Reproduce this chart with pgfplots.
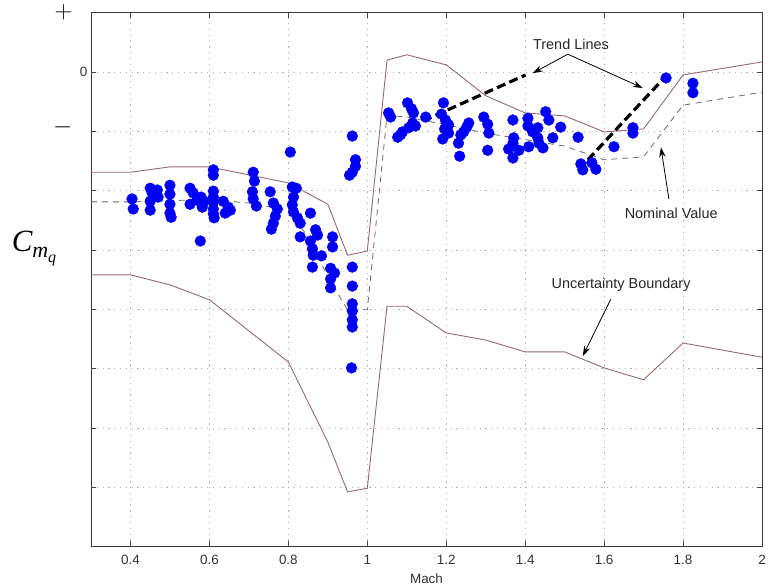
\documentclass[border=0pt]{standalone}
\usepackage{pgfplots}
\pgfplotsset{compat=1.18}
\usetikzlibrary{arrows.meta}
\usepackage{fontspec}
\setmainfont{Liberation Sans}
\newfontfamily\serifit{Liberation Serif}
\definecolor{bnd}{RGB}{150,105,110}
\definecolor{nom}{RGB}{105,105,105}
\definecolor{dotblue}{RGB}{0,0,245}
\begin{document}
\begin{tikzpicture}
\path[use as bounding box] (-91bp,-40.6bp) rectangle (682bp,546.4bp);
\begin{axis}[
  at={(0,0)}, anchor=south west,
  scale only axis, width=671bp, height=533.7bp,
  xmin=0.3, xmax=2, ymin=-8, ymax=1,
  clip=false,
  xtick={0.4,0.6,0.8,1.0,1.2,1.4,1.6,1.8,2.0},
  xticklabels={0.4,0.6,0.8,1,1.2,1.4,1.6,1.8,2},
  ytick={-8,-7,-6,-5,-4,-3,-2,-1,0,1},
  yticklabels={,,,,,,,{\raisebox{10bp}{\color{black}\fontsize{24}{24}\selectfont$-$}\rule{15bp}{0pt}},0,{{\color{black}\fontsize{24}{24}\selectfont$+$}\rule{15bp}{0pt}}},
  /pgf/number format/assume math mode=true,
  grid=major,
  grid style={gray!60, line width=0.6pt, dash pattern=on 1.2bp off 4.6bp},
  tick align=inside, major tick length=5bp,
  tick style={gray!55!black, line width=0.6pt},
  axis line style={gray!45!black, line width=0.8pt},
  tick label style={font=\fontsize{13.5}{15}\selectfont, text=black!80},
  xticklabel style={yshift=-5bp},
  xlabel={Mach},
  xlabel style={font=\fontsize{13.5}{15}\selectfont, text=black!80, at={(axis description cs:0.5,0)}, anchor=center, yshift=-32bp},
]
% upper uncertainty boundary
\addplot[bnd, line width=0.9pt] coordinates {
(0.3,-1.69)(0.4,-1.69)(0.5,-1.60)(0.6,-1.60)(0.8,-1.87)(0.9,-2.23)(0.95,-3.09)(1.0,-3.02)
(1.05,0.20)(1.1,0.29)(1.2,0.12)(1.3,-0.40)(1.4,-0.69)(1.5,-0.74)(1.6,-1.01)(1.7,-0.96)(1.8,-0.05)(2.0,0.17)};
% lower uncertainty boundary
\addplot[bnd, line width=0.9pt] coordinates {
(0.3,-3.42)(0.4,-3.42)(0.5,-3.59)(0.6,-3.84)(0.8,-4.89)(0.9,-6.24)(0.95,-7.08)(1.0,-7.02)
(1.05,-3.95)(1.1,-3.95)(1.2,-4.40)(1.3,-4.52)(1.4,-4.72)(1.5,-4.72)(1.6,-4.99)(1.7,-5.19)(1.8,-4.57)(2.0,-4.81)};
% nominal value
\addplot[nom, line width=0.8pt, dash pattern=on 6bp off 5bp] coordinates {
(0.3,-2.19)(0.4,-2.19)(0.6,-2.15)(0.7,-2.21)(0.8,-2.33)(0.85,-2.78)(0.9,-3.45)(0.95,-4.01)(1.0,-4.01)
(1.05,-0.73)(1.1,-0.76)(1.2,-0.89)(1.3,-1.03)(1.5,-1.25)(1.6,-1.48)(1.7,-1.43)(1.8,-0.56)(2.0,-0.34)};
% flight data
\addplot[only marks, mark=*, mark size=5.4bp, draw=dotblue, fill=dotblue] coordinates {
(0.404,-2.14)(0.407,-2.31)(0.450,-1.96)(0.455,-2.04)(0.450,-2.18)(0.450,-2.33)(0.468,-1.99)(0.470,-2.11)
(0.500,-1.91)(0.500,-2.06)(0.500,-2.23)(0.500,-2.38)(0.503,-2.45)
(0.551,-1.96)(0.559,-2.04)(0.569,-2.16)(0.551,-2.23)(0.579,-2.11)(0.587,-2.18)(0.582,-2.28)(0.577,-2.85)
(0.610,-1.65)(0.610,-1.74)(0.610,-2.01)(0.610,-2.11)(0.610,-2.19)(0.610,-2.31)(0.610,-2.39)(0.612,-2.46)
(0.635,-2.18)(0.648,-2.28)(0.640,-2.38)(0.653,-2.33)
(0.711,-1.69)(0.714,-1.84)(0.709,-2.02)(0.711,-2.14)(0.719,-2.26)
(0.754,-2.02)(0.762,-2.21)(0.772,-2.31)(0.767,-2.43)(0.762,-2.55)(0.757,-2.65)
(0.805,-1.35)(0.810,-1.94)(0.820,-1.96)(0.813,-2.11)(0.810,-2.24)(0.813,-2.36)(0.823,-2.46)(0.830,-2.55)(0.830,-2.78)
(0.856,-2.38)(0.869,-2.66)(0.874,-2.75)(0.856,-2.85)(0.861,-2.98)(0.863,-3.09)(0.861,-3.29)(0.884,-3.10)
(0.912,-2.78)(0.912,-2.95)(0.907,-3.31)(0.917,-3.39)(0.907,-3.49)(0.907,-3.64)
(0.962,-1.08)(0.970,-1.48)(0.970,-1.59)(0.962,-1.69)(0.955,-1.74)
(0.962,-3.29)(0.962,-3.61)(0.962,-3.91)(0.962,-4.03)(0.962,-4.18)(0.962,-4.30)(0.960,-4.99)
(1.054,-0.69)(1.059,-0.76)(1.077,-1.10)(1.084,-1.06)(1.089,-1.01)(1.102,-0.52)(1.112,-0.62)(1.117,-0.69)
(1.148,-0.76)(1.115,-0.86)(1.122,-0.91)(1.105,-0.94)
(1.193,-0.52)(1.188,-0.71)(1.198,-0.81)(1.206,-0.89)(1.196,-0.96)(1.206,-1.03)(1.191,-1.13)
(1.231,-1.20)(1.237,-1.06)(1.244,-1.01)(1.252,-0.93)(1.257,-0.86)(1.234,-1.42)
(1.295,-0.76)(1.305,-0.88)(1.308,-1.03)(1.305,-1.32)
(1.358,-1.30)(1.369,-1.20)(1.371,-1.11)(1.369,-0.81)(1.369,-1.45)(1.384,-1.32)
(1.407,-0.78)(1.407,-0.91)(1.419,-1.01)(1.432,-0.94)(1.409,-1.26)(1.432,-1.11)(1.435,-1.20)(1.445,-1.28)
(1.452,-0.67)(1.460,-0.81)(1.470,-1.11)(1.490,-0.93)
(1.534,-1.10)(1.541,-1.55)(1.546,-1.65)(1.569,-1.53)(1.579,-1.64)(1.625,-1.26)
(1.673,-0.94)(1.673,-1.03)(1.757,-0.10)(1.825,-0.19)(1.825,-0.35)};
% trend lines
\addplot[black, line width=3.2pt, dash pattern=on 9bp off 4.5bp] coordinates {(1.079,-1.01)(1.401,-0.05)};
\addplot[black, line width=3.2pt, dash pattern=on 9bp off 4.5bp] coordinates {(1.559,-1.48)(1.752,-0.10)};
% annotations
\node[font=\fontsize{14.5}{16}\selectfont, text=black!85] at (axis cs:1.516,0.47) {Trend Lines};
\draw[-{Stealth[length=10bp,width=6.5bp]}, line width=0.8pt] (axis cs:1.508,0.30) -- (axis cs:1.419,-0.02);
\draw[-{Stealth[length=10bp,width=6.5bp]}, line width=0.8pt] (axis cs:1.508,0.30) -- (axis cs:1.698,-0.27);
\node[font=\fontsize{14.5}{16}\selectfont, text=black!85] at (axis cs:1.77,-2.38) {Nominal Value};
\draw[-{Stealth[length=10bp,width=6.5bp]}, line width=0.8pt] (axis cs:1.764,-2.14) -- (axis cs:1.744,-1.27);
\node[font=\fontsize{14.5}{16}\selectfont, text=black!85] at (axis cs:1.643,-3.59) {Uncertainty Boundary};
\draw[-{Stealth[length=10bp,width=6.5bp]}, line width=0.8pt] (axis cs:1.617,-3.83) -- (axis cs:1.546,-4.79);
% y label
\node at (rel axis cs:0,0.559) [xshift=-57bp] {{\serifit\itshape\fontsize{31}{31}\selectfont C}\raisebox{-6bp}{\serifit\itshape\fontsize{22}{22}\selectfont m\raisebox{-5bp}{\fontsize{16}{16}\selectfont q}}};
\end{axis}
\end{tikzpicture}
\end{document}
